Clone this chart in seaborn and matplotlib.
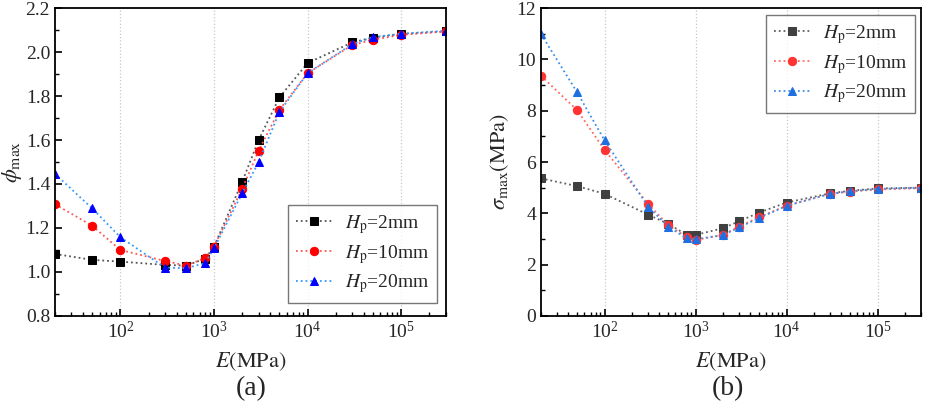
import numpy as np
import pandas as pd
import seaborn as sns
import matplotlib.pyplot as plt
from matplotlib.ticker import LogLocator, MultipleLocator, NullFormatter

sns.set_theme(style="ticks")
plt.rcParams['font.family'] = ['Liberation Serif', 'DejaVu Serif']
plt.rcParams['mathtext.fontset'] = 'stix'

# E values (MPa)
E = [20, 50, 100, 300, 500, 800, 1000, 2000, 3000, 5000, 10000, 30000, 50000, 100000, 300000]
labels = [r'$H_{\mathrm{p}}$=2mm', r'$H_{\mathrm{p}}$=10mm', r'$H_{\mathrm{p}}$=20mm']

# (a) phi_max
phi_2 = [1.082, 1.055, 1.047, 1.032, 1.029, 1.06, 1.115, 1.41, 1.60, 1.794, 1.95, 2.044, 2.066, 2.082, 2.094]
phi_10 = [1.308, 1.21, 1.10, 1.05, 1.029, 1.062, 1.115, 1.378, 1.552, 1.737, 1.904, 2.032, 2.056, 2.078, 2.094]
phi_20 = [1.446, 1.289, 1.158, 1.02, 1.017, 1.04, 1.108, 1.358, 1.50, 1.728, 1.904, 2.036, 2.068, 2.083, 2.097]

# (b) sigma_max (MPa)
sig_2 = [5.36, 5.06, 4.76, 3.95, 3.59, 3.16, 3.16, 3.42, 3.69, 4.03, 4.42, 4.78, 4.88, 4.97, 5.0]
sig_10 = [9.36, 8.02, 6.47, 4.37, 3.54, 3.07, 2.96, 3.16, 3.48, 3.85, 4.30, 4.76, 4.85, 4.93, 4.98]
sig_20 = [10.99, 8.71, 6.84, 4.26, 3.48, 3.02, 2.99, 3.15, 3.45, 3.82, 4.29, 4.76, 4.86, 4.95, 5.0]

markers = ['s', 'o', '^']
cols_a = ['#000000', '#ff0000', '#0000ff']
lines_a = ['#555555', '#ff5555', '#3399ff']
cols_b = ['#404040', '#ff3333', '#1f6fe0']
lines_b = ['#606060', '#ff6666', '#3c8fea']

fig = plt.figure(figsize=(9.27, 4.03), dpi=100)
ax1 = fig.add_axes([0.0593, 0.216, 0.4217, 0.764])
ax2 = fig.add_axes([0.5836, 0.216, 0.4099, 0.764])


def draw(ax, series, cols, lcols, anchor, loc):
    for ys, lab, m, c, lc in zip(series, labels, markers, cols, lcols):
        df = pd.DataFrame({'E': E, 'v': ys})
        sns.lineplot(data=df, x='E', y='v', ax=ax, color=lc, linestyle=':', linewidth=1.3,
                     marker=m, markersize=6, markerfacecolor=c, markeredgecolor=c,
                     label=lab)
    ax.set_xscale('log')
    ax.set_xlim(20, 300000)
    ax.xaxis.set_major_locator(LogLocator(base=10, numticks=10))
    ax.xaxis.set_minor_locator(LogLocator(base=10, subs=np.arange(2, 10), numticks=20))
    ax.xaxis.set_minor_formatter(NullFormatter())
    ax.grid(True, which='major', axis='x', color='#c8c8c8', linestyle=':', linewidth=0.9)
    for s in ax.spines.values():
        s.set_linewidth(1.3)
        s.set_color('black')
    ax.tick_params(which='both', direction='in', top=False, right=False, labelsize=14, color='black')
    ax.tick_params(which='major', length=5, width=1.2)
    ax.tick_params(which='minor', length=3, width=1.0)
    ax.set_xlabel(r'$E\mathrm{(MPa)}$', fontsize=16, labelpad=6)
    leg = ax.legend(fontsize=14, frameon=True, fancybox=False, edgecolor='#555555',
                    handlelength=1.9, borderpad=0.4, labelspacing=0.35, handletextpad=0.6,
                    loc=loc, bbox_to_anchor=anchor, borderaxespad=0)
    leg.get_frame().set_linewidth(1.0)


draw(ax1, [phi_2, phi_10, phi_20], cols_a, lines_a, (0.977, 0.042), 'lower right')
ax1.set_ylim(0.8, 2.2)
ax1.yaxis.set_major_locator(MultipleLocator(0.2))
ax1.yaxis.set_minor_locator(MultipleLocator(0.1))
ax1.yaxis.set_major_formatter(plt.FuncFormatter(lambda v, p: f'{v:.1f}'))
ax1.set_ylabel(r'$\phi_{\mathrm{max}}$', fontsize=16, labelpad=1)

draw(ax2, [sig_2, sig_10, sig_20], cols_b, lines_b, (0.984, 0.977), 'upper right')
ax2.set_ylim(0, 12)
ax2.yaxis.set_major_locator(MultipleLocator(2))
ax2.yaxis.set_minor_locator(MultipleLocator(1))
ax2.set_ylabel(r'$\sigma_{\mathrm{max}}\mathrm{(MPa)}$', fontsize=16, labelpad=4)

fig.text(0.271, 0.035, '(a)', fontsize=20, ha='center', va='center')
fig.text(0.785, 0.035, '(b)', fontsize=20, ha='center', va='center')

fig.savefig('out.png', dpi=100)
